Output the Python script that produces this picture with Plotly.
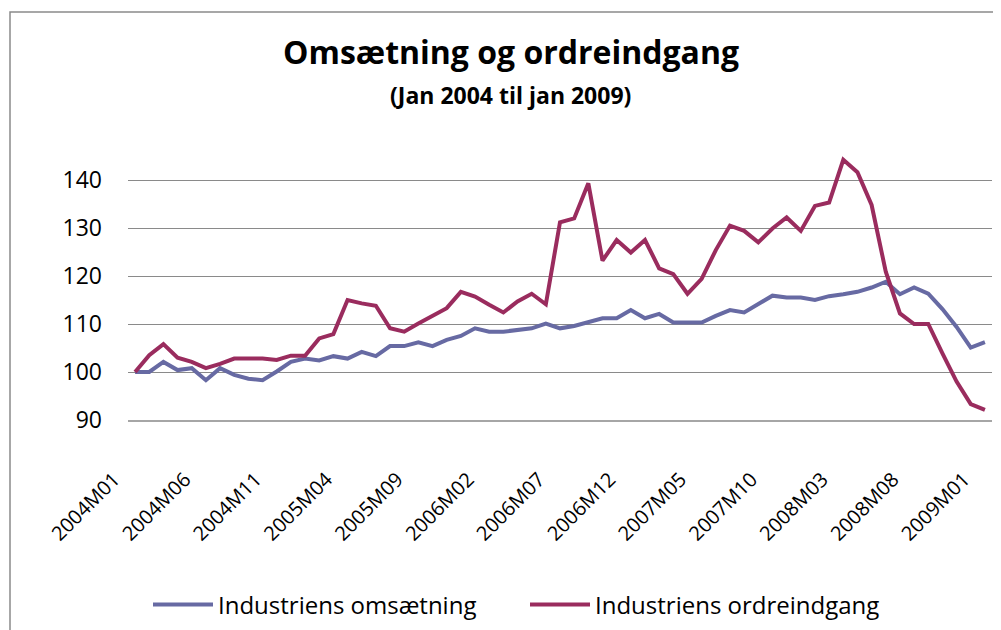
import plotly.graph_objects as go

months = [
    "2004M01", "2004M02", "2004M03", "2004M04", "2004M05", "2004M06", "2004M07", "2004M08", "2004M09", "2004M10", "2004M11", "2004M12",
    "2005M01", "2005M02", "2005M03", "2005M04", "2005M05", "2005M06", "2005M07", "2005M08", "2005M09", "2005M10", "2005M11", "2005M12",
    "2006M01", "2006M02", "2006M03", "2006M04", "2006M05", "2006M06", "2006M07", "2006M08", "2006M09", "2006M10", "2006M11", "2006M12",
    "2007M01", "2007M02", "2007M03", "2007M04", "2007M05", "2007M06", "2007M07", "2007M08", "2007M09", "2007M10", "2007M11", "2007M12",
    "2008M01", "2008M02", "2008M03", "2008M04", "2008M05", "2008M06", "2008M07", "2008M08", "2008M09", "2008M10", "2008M11", "2008M12",
    "2009M01",
]

omsaetning = [
    100, 100, 102.1, 100.4, 100.8, 98.3, 100.8, 99.4, 98.6, 98.3, 100.1, 102.1,
    102.8, 102.4, 103.3, 102.8, 104.2, 103.3, 105.4, 105.4, 106.2, 105.4, 106.7, 107.5,
    109.1, 108.4, 108.4, 108.8, 109.1, 110.1, 109.1, 109.6, 110.5, 111.2, 111.2, 112.9,
    111.2, 112.1, 110.3, 110.3, 110.3, 111.7, 112.9, 112.4, 114.2, 115.9, 115.5, 115.5,
    115.0, 115.8, 116.2, 116.7, 117.6, 118.8, 116.2, 117.6, 116.3, 113.1, 109.4, 105.1,
    106.2,
]

ordreindgang = [
    100, 103.5, 105.8, 103.0, 102.1, 100.8, 101.7, 102.8, 102.8, 102.8, 102.5, 103.4,
    103.4, 107.0, 107.9, 115.0, 114.3, 113.8, 109.1, 108.4, 110.1, 111.7, 113.3, 116.7,
    115.7, 114.0, 112.4, 114.7, 116.3, 114.1, 131.2, 132.0, 139.3, 123.2, 127.5, 124.9,
    127.5, 121.6, 120.4, 116.3, 119.4, 125.4, 130.5, 129.4, 127.0, 129.9, 132.2, 129.4,
    134.6, 135.3, 144.2, 141.6, 134.8, 120.9, 112.2, 110.0, 110.0, 103.9, 98.0, 93.3,
    92.1,
]

tick_labels = ["2004M01", "2004M06", "2004M11", "2005M04", "2005M09", "2006M02", "2006M07",
               "2006M12", "2007M05", "2007M10", "2008M03", "2008M08", "2009M01"]

series_names = ["Industriens omsætning", "Industriens ordreindgang"]
title_text = "Omsætning og ordreindgang"
subtitle_text = "(Jan 2004 til jan 2009)"

FONT = "Open Sans, sans-serif"

fig = go.Figure()
fig.add_trace(go.Scatter(x=months, y=omsaetning, mode="lines", name=series_names[0],
                         line=dict(color="#676aa3", width=4)))
fig.add_trace(go.Scatter(x=months, y=ordreindgang, mode="lines", name=series_names[1],
                         line=dict(color="#9a2c5e", width=4)))

# the page body has an 8px margin; work in screen coordinates and convert
OFF = 8
W, H = 1001 - OFF, 630 - OFF
X0, X1 = 128, 992        # plot area left/right on screen
Y0, Y1 = 156, 420        # plot area top/bottom on screen
L, R = X0 - OFF, W - (X1 - OFF)
T, B = Y0 - OFF, H - (Y1 - OFF)
pw, ph = X1 - X0, Y1 - Y0

def px(x):
    return (x - X0) / pw

def py(y):
    return (Y1 - y) / ph

fig.update_layout(
    width=W, height=H,
    margin=dict(l=L, r=R, t=T, b=B, pad=0, autoexpand=False),
    paper_bgcolor="white", plot_bgcolor="white",
    font=dict(family=FONT, color="#000000", size=20),
    showlegend=True,
    legend=dict(orientation="h", xref="container", yref="container",
                x=(148 - OFF) / W, xanchor="left", y=1 - (605 - OFF) / H, yanchor="middle",
                font=dict(size=24, family=FONT), itemwidth=60, tracegroupgap=0,
                entrywidth=302, entrywidthmode="pixels", bgcolor="rgba(0,0,0,0)"),
    xaxis=dict(type="category", range=[-0.5, 60.5], tickmode="array", tickvals=tick_labels,
               ticktext=tick_labels, tickangle=-45, showgrid=False, showline=True,
               linecolor="#a6a6a6", linewidth=1.5,
               ticks="", tickfont=dict(size=20, family=FONT), zeroline=False,
               automargin=False, ticklabelshift=-21, ticklabelstandoff=38),
    yaxis=dict(range=[90, 145], dtick=10, tick0=90, showgrid=True, gridcolor="#8a8a8a",
               gridwidth=1, showline=False, ticks="", zeroline=False, automargin=False,
               tickfont=dict(size=23, family=FONT), ticklabelstandoff=25),
    annotations=[
        dict(text="<b>" + title_text + "</b>", x=px(511), y=py(51), xref="paper", yref="paper",
             showarrow=False, xanchor="center", yanchor="middle",
             font=dict(size=32, family=FONT)),
        dict(text="<b>" + subtitle_text + "</b>", x=px(510), y=py(95), xref="paper", yref="paper",
             showarrow=False, xanchor="center", yanchor="middle",
             font=dict(size=23, family=FONT)),
    ],
    shapes=[
        dict(type="rect", xref="paper", yref="paper", x0=px(10), x1=px(1012), y0=py(660), y1=py(12),
             line=dict(color="#8a8a8a", width=1.5), fillcolor="rgba(0,0,0,0)", layer="below"),
    ],
)

fig.write_html("out.html")
